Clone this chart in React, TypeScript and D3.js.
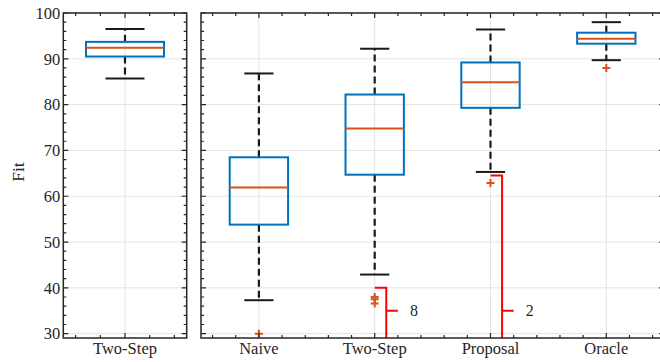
import React from 'react';
import * as d3 from 'd3';

// left panel: one group
const leftCats = ['Two-Step'];
const leftLow = [85.7];
const leftQ1 = [90.5];
const leftMed = [92.4];
const leftQ3 = [93.7];
const leftHigh = [96.5];
const leftOutliers: number[][] = [[]];
const leftHidden: (number | null)[] = [null];
const leftHiddenTop: (number | null)[] = [null];

// right panel: four groups
const rightCats = ['Naive', 'Two-Step', 'Proposal', 'Oracle'];
const rightLow = [37.3, 42.9, 65.3, 89.7];
const rightQ1 = [53.8, 64.7, 79.3, 93.3];
const rightMed = [61.9, 74.8, 84.9, 94.4];
const rightQ3 = [68.5, 82.2, 89.2, 95.7];
const rightHigh = [86.8, 92.2, 96.4, 98.0];
const rightOutliers: number[][] = [[30.0], [38.0, 37.5, 36.6], [62.9], [88.0]];
// outliers below the visible range, shown by a bracket + count
const rightHidden: (number | null)[] = [null, 8, 2, null];
const rightHiddenTop: (number | null)[] = [null, 40, 64.5, null];

const yTicks = [30, 40, 50, 60, 70, 80, 90, 100];
const yLabel = 'Fit';

const W = 660;
const H = 362;
const FONT = "'Liberation Serif', 'Times New Roman', serif";
const AX = '#262626';
const WHISK = '#1a1a1a';
const GRID = '#e3e3e3';
const BLUE = '#0072BD';
const ORANGE = '#D95319';
const RED = '#FF0000';

const TOP = 13;
const BOTTOM = 338;
const y = d3.scaleLinear().domain([29.05, 100]).range([BOTTOM, TOP]);

type PanelProps = {
    cats: string[]; low: number[]; q1: number[]; med: number[]; q3: number[]; high: number[];
    outl: number[][]; hidden: (number | null)[]; hiddenTop: (number | null)[];
    x0: number; x1: number; boxHalf: number; labels: boolean;
};

const Panel = ({ cats, low, q1, med, q3, high, outl, hidden, hiddenTop, x0, x1, boxHalf, labels }: PanelProps) => {
    const x = d3.scaleLinear().domain([0.5, cats.length + 0.5]).range([x0, x1]);
    const bw = x(1 + boxHalf) - x(1);
    const cw = bw / 2;
    const yMinor = d3.range(30, 100, 2).filter(v => v % 10 !== 0);
    const xMinor = d3.range(0.6, cats.length + 0.5, 0.2).filter(v => Math.abs(v - Math.round(v)) > 0.05);

    const yTickD = yTicks.map(v => `M${x0},${y(v)}h5M${x1},${y(v)}h-5`).join('')
        + yMinor.map(v => `M${x0},${y(v)}h3M${x1},${y(v)}h-3`).join('');
    const xTickD = cats.map((_, i) => `M${x(i + 1)},${BOTTOM}v-5M${x(i + 1)},${TOP}v5`).join('')
        + xMinor.map(v => `M${x(v)},${BOTTOM}v-3M${x(v)},${TOP}v3`).join('');

    return (
        <g>
            {yTicks.map(v => (
                <line key={'gy' + v} x1={x0} x2={x1} y1={y(v)} y2={y(v)} stroke={GRID} strokeWidth={1} />
            ))}
            {cats.map((c, i) => (
                <line key={'gx' + c} x1={x(i + 1)} x2={x(i + 1)} y1={TOP} y2={BOTTOM} stroke={GRID} strokeWidth={1} />
            ))}

            {cats.map((c, i) => {
                const cx = x(i + 1);
                const n = hidden[i];
                const ht = hiddenTop[i];
                const bx = x(i + 1.1);
                const tx = x(i + 1.2);
                const ym = y(35);
                return (
                    <g key={'b' + c}>
                        <line x1={cx} x2={cx} y1={y(q3[i])} y2={y(high[i])}
                            stroke={WHISK} strokeWidth={2.2} strokeDasharray="7,4" />
                        <line x1={cx} x2={cx} y1={y(q1[i])} y2={y(low[i])}
                            stroke={WHISK} strokeWidth={2.2} strokeDasharray="7,4" />
                        {[low[i], high[i]].map((v, k) => (
                            <line key={k} x1={cx - cw} x2={cx + cw} y1={y(v)} y2={y(v)} stroke={WHISK} strokeWidth={2} />
                        ))}
                        <rect x={cx - bw} width={2 * bw} y={y(q3[i])} height={y(q1[i]) - y(q3[i])}
                            fill="none" stroke={BLUE} strokeWidth={2} />
                        <line x1={cx - bw} x2={cx + bw} y1={y(med[i])} y2={y(med[i])} stroke={ORANGE} strokeWidth={2} />
                        {outl[i].map((v, k) => (
                            <path key={k} d={`M${cx - 4},${y(v)}H${cx + 4}M${cx},${y(v) - 4}V${y(v) + 4}`}
                                stroke={ORANGE} strokeWidth={2} fill="none" />
                        ))}
                        {n !== null && ht !== null && (
                            <g>
                                <path d={`M${cx},${y(ht)}H${bx}V${BOTTOM}M${bx},${ym}H${tx}`}
                                    stroke={RED} strokeWidth={2} fill="none" />
                                <text x={x(i + 1.34)} y={ym} dy="0.35em" textAnchor="middle"
                                    fontSize={16} fill={AX} style={{ fontFamily: FONT }}>{n}</text>
                            </g>
                        )}
                    </g>
                );
            })}

            <rect x={x0} y={TOP} width={x1 - x0} height={BOTTOM - TOP} fill="none" stroke={AX} strokeWidth={1.5} />
            <path d={yTickD} stroke={AX} strokeWidth={1.2} fill="none" />
            <path d={xTickD} stroke={AX} strokeWidth={1.2} fill="none" />

            {cats.map((c, i) => (
                <text key={'l' + c} x={x(i + 1)} y={354} textAnchor="middle" fontSize={16.5} fill={AX}
                    style={{ fontFamily: FONT }}>{c}</text>
            ))}
            {labels && yTicks.map(v => (
                <text key={'yl' + v} x={x0 - 3} y={y(v)} dy="0.35em" textAnchor="end" fontSize={16.5} fill={AX}
                    style={{ fontFamily: FONT }}>{v}</text>
            ))}
        </g>
    );
};

const App = () => (
    <svg width={W} height={H} style={{ position: 'absolute', left: 0, top: 0, background: '#fff' }}>
        <Panel cats={leftCats} low={leftLow} q1={leftQ1} med={leftMed} q3={leftQ3} high={leftHigh}
            outl={leftOutliers} hidden={leftHidden} hiddenTop={leftHiddenTop}
            x0={63.3} x1={186.7} boxHalf={0.316} labels={true} />
        <Panel cats={rightCats} low={rightLow} q1={rightQ1} med={rightMed} q3={rightQ3} high={rightHigh}
            outl={rightOutliers} hidden={rightHidden} hiddenTop={rightHiddenTop}
            x0={201} x1={664.2} boxHalf={0.252} labels={false} />
        <text transform="translate(24, 172) rotate(-90)" textAnchor="middle" fontSize={17.5} fill={AX}
            style={{ fontFamily: FONT }}>{yLabel}</text>
    </svg>
);

export default App;
